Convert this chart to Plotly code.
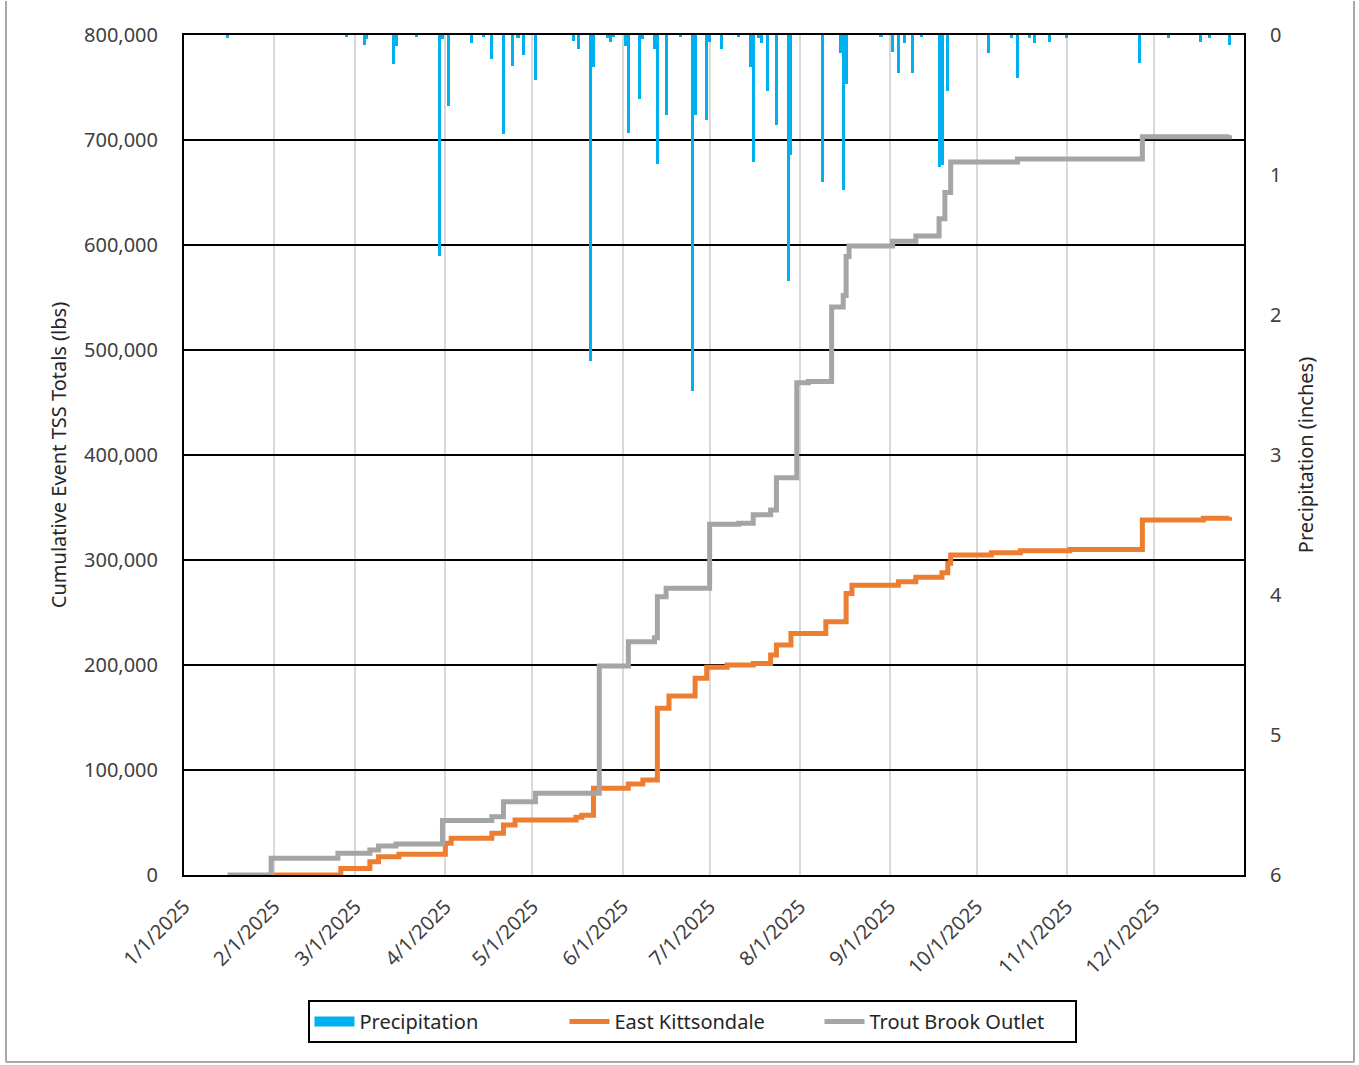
import plotly.graph_objects as go

# Daily precipitation (inches)
precip_dates = [
    "2025-01-16", "2025-02-26", "2025-03-04", "2025-03-05", "2025-03-14", "2025-03-15",
    "2025-03-22", "2025-03-30", "2025-03-31", "2025-04-02", "2025-04-10", "2025-04-14",
    "2025-04-17", "2025-04-21", "2025-04-24", "2025-04-26", "2025-04-28", "2025-05-02",
    "2025-05-15", "2025-05-17", "2025-05-21", "2025-05-22", "2025-05-27", "2025-05-28",
    "2025-05-29", "2025-06-02", "2025-06-03", "2025-06-07", "2025-06-08", "2025-06-12",
    "2025-06-13", "2025-06-16", "2025-06-21", "2025-06-25", "2025-06-26", "2025-06-30",
    "2025-07-01", "2025-07-05", "2025-07-11", "2025-07-15", "2025-07-16", "2025-07-18",
    "2025-07-19", "2025-07-21", "2025-07-24", "2025-07-28", "2025-07-29", "2025-08-09",
    "2025-08-15", "2025-08-16", "2025-08-17", "2025-08-29", "2025-09-02", "2025-09-04",
    "2025-09-06", "2025-09-09", "2025-09-12", "2025-09-18", "2025-09-19", "2025-09-21",
    "2025-10-05", "2025-10-13", "2025-10-15", "2025-10-19", "2025-10-21", "2025-10-26",
    "2025-11-01", "2025-11-26", "2025-12-06", "2025-12-17", "2025-12-20", "2025-12-27",
]
precip_inches = [
    0.02, 0.01, 0.07, 0.03, 0.21, 0.08,
    0.01, 1.58, 0.03, 0.51, 0.06, 0.01,
    0.17, 0.71, 0.22, 0.02, 0.14, 0.32,
    0.04, 0.10, 2.33, 0.23, 0.02, 0.05,
    0.01, 0.08, 0.70, 0.46, 0.03, 0.10,
    0.92, 0.57, 0.01, 2.54, 0.57, 0.61,
    0.05, 0.10, 0.01, 0.23, 0.91, 0.02,
    0.06, 0.40, 0.64, 1.76, 0.86, 1.05,
    0.13, 1.11, 0.35, 0.01, 0.12, 0.27,
    0.06, 0.27, 0.01, 0.94, 0.93, 0.40,
    0.13, 0.02, 0.31, 0.02, 0.06, 0.05,
    0.02, 0.20, 0.02, 0.05, 0.02, 0.07,
]

# Cumulative event TSS load, East Kittsondale (lbs)
ek_dates = [
    "2025-02-01", "2025-02-24", "2025-03-06", "2025-03-09", "2025-03-16", "2025-04-01",
    "2025-04-03", "2025-04-17", "2025-04-21", "2025-04-25", "2025-05-16", "2025-05-18",
    "2025-05-22", "2025-06-03", "2025-06-08", "2025-06-13", "2025-06-17", "2025-06-26",
    "2025-06-30", "2025-07-07", "2025-07-16", "2025-07-22", "2025-07-24", "2025-07-29",
    "2025-08-10", "2025-08-17", "2025-08-19", "2025-09-04", "2025-09-10", "2025-09-19",
    "2025-09-21", "2025-09-22", "2025-10-06", "2025-10-16", "2025-11-02", "2025-11-27",
    "2025-12-18", "2025-12-27",
]
ek_lbs = [
    0, 6300, 12700, 17500, 19700, 30200,
    34900, 39700, 47600, 52400, 55000, 57000,
    82600, 86700, 90500, 158700, 170500, 187300,
    197800, 200000, 201500, 209500, 219000, 230000,
    241300, 268000, 276000, 279400, 283500, 287900,
    296800, 304800, 307000, 308900, 310000, 338000,
    339700, 341000,
]

# Cumulative event TSS load, Trout Brook Outlet (lbs)
tb_dates = [
    "2025-01-16", "2025-01-31", "2025-02-23", "2025-03-06", "2025-03-09", "2025-03-15",
    "2025-03-31", "2025-04-17", "2025-04-21", "2025-05-02", "2025-05-24", "2025-06-03",
    "2025-06-12", "2025-06-13", "2025-06-16", "2025-07-01", "2025-07-11", "2025-07-16",
    "2025-07-22", "2025-07-24", "2025-07-31", "2025-08-04", "2025-08-12", "2025-08-16",
    "2025-08-17", "2025-08-18", "2025-09-02", "2025-09-10", "2025-09-18", "2025-09-20",
    "2025-09-22", "2025-10-15", "2025-11-27", "2025-12-27",
]
tb_lbs = [
    0, 16000, 20700, 23800, 27600, 29500,
    52000, 55500, 69800, 77800, 199000, 222200,
    226000, 265000, 273000, 334000, 335000, 343000,
    347600, 378400, 468900, 470000, 541000, 552000,
    589000, 599000, 603500, 608500, 625000, 650000,
    679000, 681900, 703200, 704500,
]

month_ticks = [
    "2025-01-01", "2025-02-01", "2025-03-01", "2025-04-01", "2025-05-01", "2025-06-01",
    "2025-07-01", "2025-08-01", "2025-09-01", "2025-10-01", "2025-11-01", "2025-12-01",
]
month_labels = [
    "1/1/2025", "2/1/2025", "3/1/2025", "4/1/2025", "5/1/2025", "6/1/2025",
    "7/1/2025", "8/1/2025", "9/1/2025", "10/1/2025", "11/1/2025", "12/1/2025",
]

FONT = "Noto Sans"
TEXT = "#404040"
BLUE, ORANGE, GRAY = "#00B0F0", "#ED7D31", "#A5A5A5"

fig = go.Figure()

fig.add_trace(go.Bar(
    x=precip_dates, y=precip_inches, name="Precipitation", yaxis="y2",
    marker=dict(color=BLUE, line=dict(width=0)),
    width=86400000 * 1.05, legendgroup="precip", showlegend=False,
))
# legend key for the precipitation bars: a wide solid swatch
fig.add_trace(go.Scatter(
    x=[None], y=[None], name="Precipitation", mode="lines", yaxis="y2",
    line=dict(color=BLUE, width=12), legendgroup="precip",
))
fig.add_trace(go.Scatter(
    x=ek_dates, y=ek_lbs, name="East Kittsondale", mode="lines",
    line=dict(color=ORANGE, width=5, shape="hv"),
))
fig.add_trace(go.Scatter(
    x=tb_dates, y=tb_lbs, name="Trout Brook Outlet", mode="lines",
    line=dict(color=GRAY, width=5, shape="hv"),
))

# plot area occupies x 184..1244 px, y 35..875 px
L, R, T, B = 184, 1359 - 1244, 35, 1065 - 875
PW, PH = 1244 - 184, 875 - 35


def px_x(p):
    return (p - L) / PW


def px_y(p):
    return (875 - p) / PH


fig.update_layout(
    width=1359, height=1065,
    margin=dict(l=L, r=R, t=T, b=B, autoexpand=False),
    paper_bgcolor="white", plot_bgcolor="white",
    font=dict(family=FONT, size=20, color=TEXT),
    bargap=0,
    showlegend=True,
    legend=dict(
        orientation="h", x=px_x(692), xanchor="center", y=px_y(1000), yanchor="top",
        bordercolor="black", borderwidth=2, bgcolor="white",
        font=dict(family=FONT, size=20, color="#262626"),
        traceorder="normal", itemwidth=40,
        entrywidth=200, entrywidthmode="pixels",
    ),
    xaxis=dict(
        type="date", range=["2025-01-01", "2026-01-01"],
        tickvals=month_ticks, ticktext=month_labels, tickangle=-45,
        showgrid=True, gridcolor="#D9D9D9", gridwidth=2,
        showline=True, linecolor="black", linewidth=2, mirror=True,
        ticks="", zeroline=False, ticklabelstandoff=10,
        tickfont=dict(family=FONT, size=20, color=TEXT),
    ),
    yaxis=dict(
        range=[0, 800000], dtick=100000, tickformat=",d",
        showgrid=True, gridcolor="black", gridwidth=2,
        showline=True, linecolor="black", linewidth=2,
        zeroline=False, ticks="", ticklabelstandoff=20,
        tickfont=dict(family=FONT, size=20, color=TEXT),
        title=dict(text="Cumulative Event TSS Totals (lbs)", standoff=12,
                   font=dict(family=FONT, size=20, color="#262626")),
    ),
    yaxis2=dict(
        overlaying="y", side="right", range=[6, 0], dtick=1,
        showgrid=False, zeroline=False,
        showline=True, linecolor="black", linewidth=2,
        ticks="", ticklabelstandoff=20,
        tickfont=dict(family=FONT, size=20, color=TEXT),
        title=dict(text="Precipitation (inches)", standoff=18,
                   font=dict(family=FONT, size=20, color="#262626")),
    ),
)

# outer chart frame
frame = dict(color="#8C8C8C", width=1.5)
x0, x1 = px_x(6), px_x(1354)
y0, y1 = px_y(1062), px_y(1)
fig.add_shape(type="line", xref="paper", yref="paper", x0=x0, x1=x0, y0=y0, y1=y1, line=frame)
fig.add_shape(type="line", xref="paper", yref="paper", x0=x1, x1=x1, y0=y0, y1=y1, line=frame)
fig.add_shape(type="line", xref="paper", yref="paper", x0=x0, x1=x1, y0=y0, y1=y0, line=frame)

fig.write_html("out.html")
